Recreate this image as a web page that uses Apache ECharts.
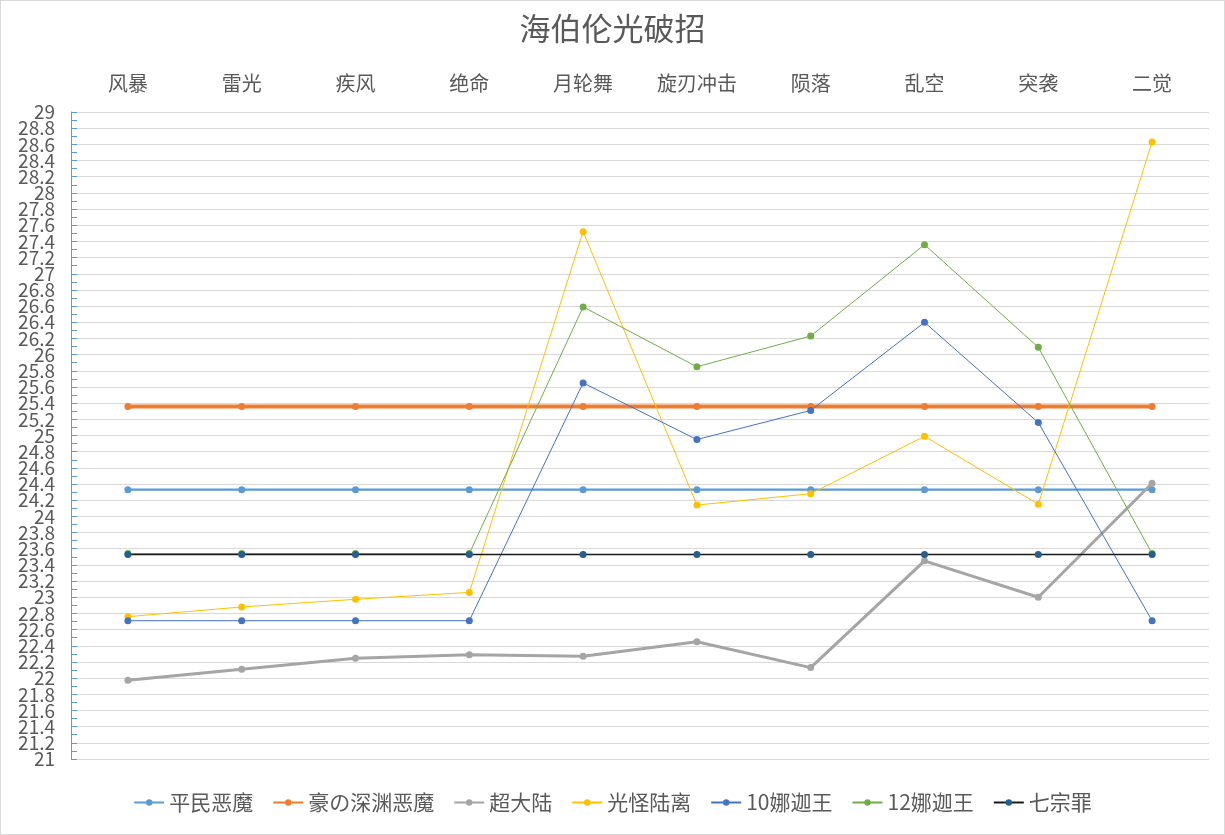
<!DOCTYPE html>
<html>
<head>
<meta charset="utf-8">
<script src="https://cdn.jsdelivr.net/npm/echarts@6/dist/echarts.min.js"></script>
<style>
html,body{margin:0;padding:0;background:#fff;}
#chart{width:1223px;height:833px;border:1px solid #d9d9d9;}
</style>
</head>
<body>
<div id="chart"></div>
<script>
const categories = ['风暴','雷光','疾风','绝命','月轮舞','旋刃冲击','陨落','乱空','突袭','二觉'];
const pingmin  = [24.33,24.33,24.33,24.33,24.33,24.33,24.33,24.33,24.33,24.33];
const haoShenyuan = [25.36,25.36,25.36,25.36,25.36,25.36,25.36,25.36,25.36,25.36];
const chaodalu = [21.975,22.11,22.245,22.29,22.27,22.45,22.13,23.45,23.0,24.41];
const guangguai = [22.76,22.88,22.975,23.06,27.52,24.14,24.28,24.99,24.15,28.63];
const naga10 = [22.71,22.71,22.71,22.71,25.65,24.95,25.31,26.4,25.16,22.71];
const naga12 = [23.54,23.54,23.54,23.54,26.59,25.85,26.23,27.36,26.09,23.54];
const qizongzui = [23.53,23.53,23.53,23.53,23.53,23.53,23.53,23.53,23.53,23.53];
const seriesNames = ['平民恶魔','豪の深渊恶魔','超大陆','光怪陆离','10娜迦王','12娜迦王','七宗罪'];
// y tick labels (every 0.2), split into two alternating sets so none get hidden
const yTicksA = [21,21.4,21.8,22.2,22.6,23,23.4,23.8,24.2,24.6,25,25.4,25.8,26.2,26.6,27,27.4,27.8,28.2,28.6,29];
const yTicksB = [21.2,21.6,22,22.4,22.8,23.2,23.6,24,24.4,24.8,25.2,25.6,26,26.4,26.8,27.2,27.6,28,28.4,28.8];

const FONT = '"Noto Sans CJK SC", "Noto Sans", sans-serif';
const chart = echarts.init(document.getElementById('chart'));

function mk(name, data, color, width, lineColor, symSize){
  return {
    name: name, type: 'line', data: data, yAxisIndex: 0,
    symbol: 'circle', symbolSize: symSize || 7,
    itemStyle: {color: color},
    lineStyle: {color: lineColor || color, width: width},
    emphasis: {disabled: true},
    animation: false
  };
}
const labelStyle = {fontFamily: FONT, fontSize: 19, color: '#595959', margin: 16,
  formatter: function(v){ return String(Math.round(v*10)/10); }};

chart.setOption({
  backgroundColor: '#fff',
  animation: false,
  title: {
    text: '海伯伦光破招', left: 'center', top: 7,
    textStyle: {fontFamily: FONT, fontSize: 31, fontWeight: 'normal', color: '#595959'}
  },
  legend: {
    bottom: 16, left: 'center', itemWidth: 30, itemHeight: 8, itemGap: 19,
    data: seriesNames,
    textStyle: {fontFamily: FONT, fontSize: 21, color: '#595959'}
  },
  grid: {left: 70, right: 15, top: 111, bottom: 75, containLabel: false},
  xAxis: {
    type: 'category', position: 'top', data: categories, boundaryGap: true,
    axisLine: {show: false}, axisTick: {show: false},
    axisLabel: {fontFamily: FONT, fontSize: 20, color: '#595959', margin: 19}
  },
  yAxis: [{
    type: 'value', min: 21, max: 29, interval: 0.2, position: 'left',
    axisLine: {show: true, lineStyle: {color: '#5B9BD5', width: 1}},
    axisTick: {show: true, inside: true, length: 6, lineStyle: {color: '#5B9BD5'}},
    minorTick: {show: true, splitNumber: 2, length: 6, lineStyle: {color: '#5B9BD5'}},
    splitLine: {show: true, lineStyle: {color: '#d9d9d9', width: 1}},
    axisLabel: Object.assign({customValues: yTicksA, showMinLabel: true, showMaxLabel: true}, labelStyle)
  }, {
    type: 'value', min: 21, max: 29, interval: 0.2, position: 'left', offset: 0,
    axisLine: {show: false}, axisTick: {show: false}, splitLine: {show: false},
    axisLabel: Object.assign({customValues: yTicksB, showMinLabel: true, showMaxLabel: true}, labelStyle)
  }],
  series: [
    mk(seriesNames[0], pingmin, '#5B9BD5', 2.25),
    mk(seriesNames[1], haoShenyuan, '#ED7D31', 4),
    mk(seriesNames[2], chaodalu, '#A5A5A5', 3),
    mk(seriesNames[3], guangguai, '#FFC000', 1),
    mk(seriesNames[4], naga10, '#4472C4', 1),
    mk(seriesNames[5], naga12, '#70AD47', 1),
    mk(seriesNames[6], qizongzui, '#255E91', 1.5, '#1a1a1a')
  ]
});
</script>
</body>
</html>
